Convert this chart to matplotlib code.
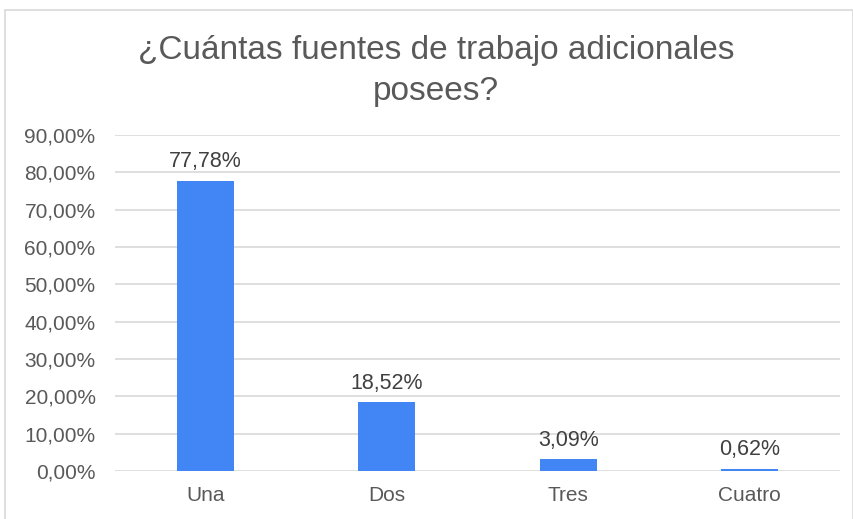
import matplotlib.pyplot as plt
from matplotlib.patches import Rectangle
from matplotlib.ticker import FuncFormatter

plt.rcParams['font.family'] = ['Liberation Sans', 'DejaVu Sans']

categorias = ['Una', 'Dos', 'Tres', 'Cuatro']
porcentajes = [77.78, 18.52, 3.09, 0.62]
titulo = '¿Cuántas fuentes de trabajo adicionales\nposees?'

def fmt_pct(v, pos=None):
    return f'{v:.2f}%'.replace('.', ',')

fig = plt.figure(figsize=(8.54, 5.19), dpi=100)
# marco gris alrededor del grafico
fig.patches.append(Rectangle((0.006, -0.01), 0.993, 0.99, transform=fig.transFigure,
                             fill=False, edgecolor='#d9d9d9', linewidth=1.2))

ax = fig.add_axes([0.1347, 0.0925, 0.849, 0.6474])
x = range(len(categorias))
bars = ax.bar(x, porcentajes, width=0.315, color='#4285f4', zorder=3)

for xi, v in zip(x, porcentajes):
    ax.annotate(fmt_pct(v), (xi, v), xytext=(0, 6), textcoords='offset points',
                ha='center', va='bottom', fontsize=15.5, color='#404040')

ax.set_xlim(-0.5, 3.5)
ax.set_ylim(0, 90)
ax.set_yticks(range(0, 91, 10))
ax.yaxis.set_major_formatter(FuncFormatter(fmt_pct))
ax.set_xticks(list(x))
ax.set_xticklabels(categorias)
ax.tick_params(axis='both', length=0, labelsize=15, labelcolor='#595959')
ax.tick_params(axis='y', pad=14)
ax.tick_params(axis='x', pad=11)
ax.grid(axis='y', color='#d9d9d9', linewidth=1.2, zorder=0)
for s in ax.spines.values():
    s.set_visible(False)

fig.text(0.511, 0.863, titulo, ha='center', va='center', fontsize=24,
         color='#595959', linespacing=1.4)

fig.savefig('out.png', dpi=100)
